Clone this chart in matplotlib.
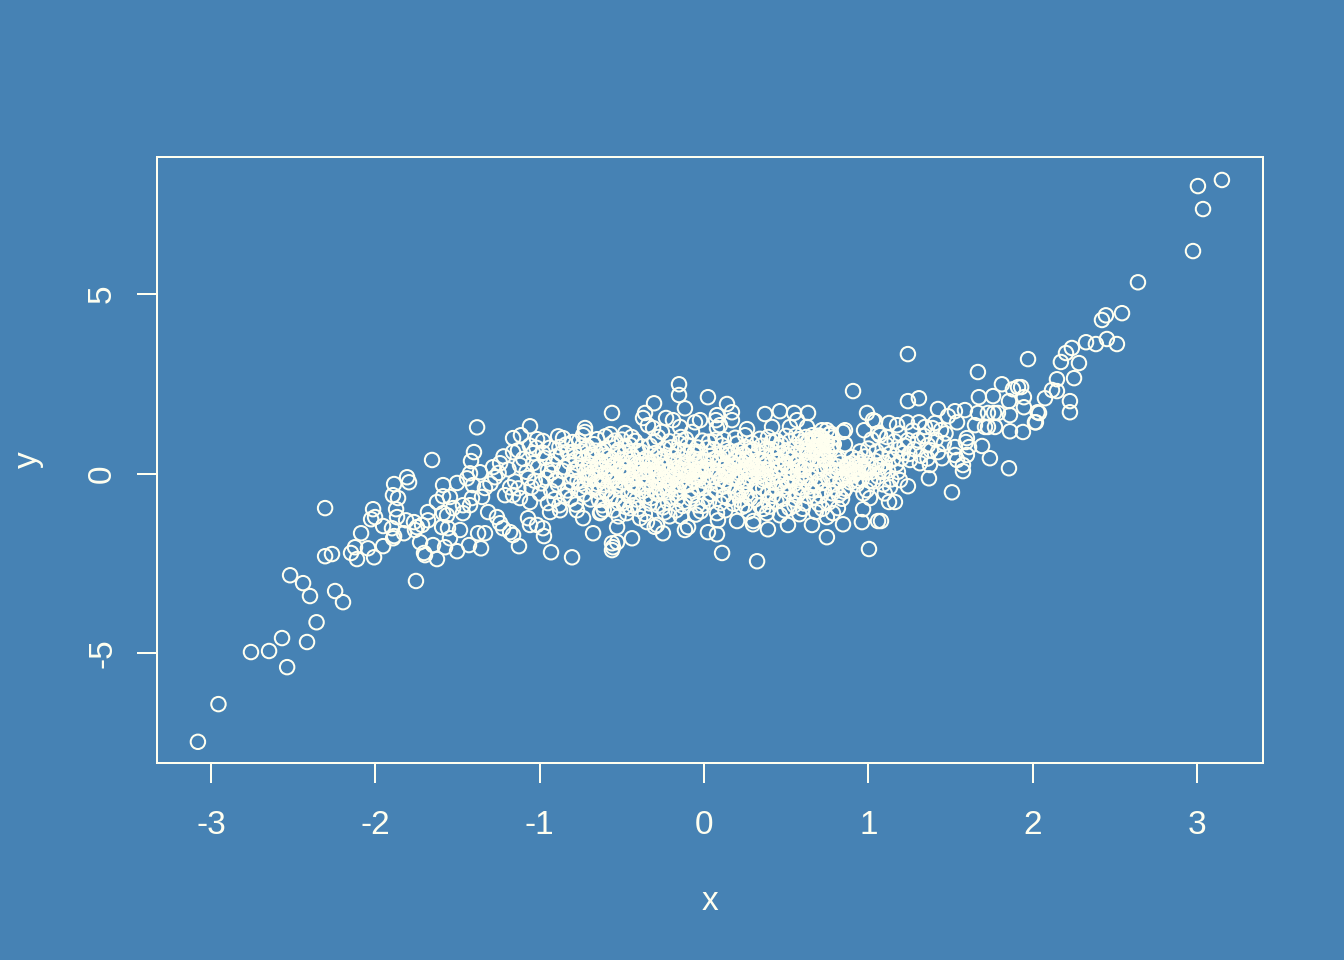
import matplotlib
matplotlib.use('Agg')
import matplotlib.pyplot as plt

BG = '#4682B4'
FG = '#FFFFF0'

# values, tails first and then the band from left to right
low_tail = [(-3.08, -7.47), (-2.955, -6.42), (-2.757, -4.97), (-2.647, -4.94), (-2.568, -4.58),
            (-2.537, -5.39), (-2.416, -4.69), (-2.358, -4.14), (-2.519, -2.83), (-2.44, -3.05),
            (-2.398, -3.41), (-2.245, -3.27), (-2.197, -3.58), (-2.306, -0.96), (-2.306, -2.30),
            (-2.264, -2.24)]

high_tail = [(3.152, 8.18), (3.006, 8.01), (3.037, 7.37), (2.976, 6.20), (2.641, 5.33), (2.544, 4.47),
             (2.446, 4.41), (2.422, 4.28), (2.452, 3.75), (2.513, 3.61), (2.385, 3.61), (2.325, 3.66),
             (2.239, 3.50), (2.203, 3.36), (2.172, 3.11), (2.282, 3.08), (2.252, 2.66), (2.148, 2.63),
             (2.118, 2.33), (2.148, 2.30), (2.075, 2.10), (2.227, 2.02), (2.227, 1.71), (2.03, 1.71),
             (2.014, 1.43)]

left_band = [(-1.381, 1.29), (-1.655, 0.38), (-1.40, 0.60), (-1.418, 0.35), (-1.807, -0.10), (-1.795, -0.24),
             (-1.886, -0.29), (-1.893, -0.60), (-1.862, -0.68), (-1.874, -0.99), (-2.014, -0.99), (-2.002, -1.21),
             (-2.026, -1.27), (-2.087, -1.66), (-1.953, -1.46), (-1.868, -1.21), (-1.899, -1.52), (-1.886, -1.74),
             (-1.892, -1.80), (-1.953, -2.02), (-2.045, -2.08), (-2.124, -2.05), (-2.148, -2.21), (-2.112, -2.38),
             (-2.008, -2.33), (-1.753, -2.99), (-1.813, -1.30), (-1.826, -1.66), (-1.765, -1.35), (-1.747, -1.49),
             (-1.759, -1.57), (-1.728, -1.91), (-1.68, -1.07), (-1.68, -1.30), (-1.716, -1.43), (-1.704, -2.21),
             (-1.698, -2.27), (-1.649, -1.99), (-1.625, -2.38), (-1.576, -2.05), (-1.503, -2.16), (-1.43, -1.99),
             (-1.357, -2.08), (-1.126, -2.02), (-0.931, -2.19), (-0.803, -2.33), (-0.675, -1.66), (-1.625, -0.79),
             (-1.588, -0.32), (-1.588, -0.63), (-1.546, -0.65), (-1.503, -0.26), (-1.588, -1.10), (-1.564, -1.16),
             (-1.594, -1.49), (-1.558, -1.52), (-1.546, -1.80), (-1.485, -1.57), (-1.527, -0.96), (-1.467, -0.88),
             (-1.467, -1.10), (-1.424, -0.88), (-1.375, -1.66), (-1.333, -1.66), (-1.314, -1.07), (-1.26, -1.21),
             (-1.241, -1.38), (-1.223, -1.52), (-1.18, -1.63), (-1.162, -1.71), (-1.071, -1.24), (-1.059, -1.43),
             (-1.016, -1.43), (-0.98, -1.52), (-0.974, -1.74), (-0.937, -1.07), (-0.876, -1.02), (-0.736, -1.24),
             (-0.773, -1.02), (-0.633, -1.10), (-1.059, 1.32), (-1.162, 0.99), (-1.114, 1.07), (-1.016, 0.96),
             (-0.98, 0.91), (-0.888, 1.04), (-0.858, 0.99), (-0.724, 1.27), (-0.724, 1.16), (-0.736, 1.07),
             (-1.162, 0.60), (-1.132, 0.65), (-1.04, 0.57), (-1.04, 0.29), (-1.241, 0.29), (-1.284, 0.18),
             (-1.272, -0.10), (-1.363, 0.04), (-1.424, 0.01), (-1.442, -0.13), (-1.406, -0.32), (-1.333, -0.40),
             (-1.351, -0.65), (-1.412, -0.68), (-1.211, -0.60), (-1.162, -0.60), (-1.12, -0.68), (-1.059, -0.79),
             (-1.19, 0.12), (-1.15, -0.22), (-1.10, 0.41), (-1.08, 0.05), (-1.05, -0.38), (-1.01, 0.18),
             (-1.00, -0.55), (-0.97, 0.44), (-0.96, -0.12), (-0.94, 0.72), (-0.92, 0.26), (-0.91, -0.71),
             (-0.89, -0.30), (-0.87, 0.55), (-0.86, 0.08), (-0.84, 0.81), (-0.83, -0.47), (-0.82, 0.33),
             (-0.80, -0.08), (-0.79, 0.62), (-0.78, -0.86), (-0.77, 0.17), (-0.76, 0.91), (-0.75, -0.28),
             (-0.74, 0.42), (-0.73, -0.58), (-0.72, 0.03), (-0.71, 0.74), (-0.70, -0.15), (-0.69, 0.27),
             (-1.22, 0.48), (-1.30, -0.28), (-1.13, -0.41), (-1.07, -0.12), (-0.99, -0.27), (-0.95, 0.10)]

mid_edges = [(-0.152, 2.49), (-0.152, 2.19), (0.024, 2.13), (-0.304, 1.96), (-0.116, 1.82), (-0.56, 1.69),
             (0.14, 1.94), (0.17, 1.71), (0.17, 1.49), (0.079, 1.63), (0.073, 1.49), (0.097, 1.35), (0.079, 1.27),
             (-0.359, 1.69), (-0.371, 1.55), (-0.341, 1.35), (-0.231, 1.55), (-0.189, 1.49), (-0.146, 1.30),
             (-0.055, 1.43), (-0.024, 1.49), (-0.073, 1.16), (-0.256, 1.16), (0.371, 1.66), (0.462, 1.74),
             (0.548, 1.69), (0.633, 1.69), (0.566, 1.49), (0.523, 1.30), (0.414, 1.30), (0.262, 1.24), (0.25, 1.07),
             (0.627, 1.30), (0.718, 1.21), (0.748, 1.21), (0.858, 1.21), (0.846, 1.16), (0.858, 0.82), (0.907, 2.30),
             (0.992, 1.69), (1.028, 1.49), (0.974, 1.21), (1.059, 1.13), (0.90, 0.46), (-0.627, -1.07), (-0.529, -1.49),
             (-0.438, -1.80), (-0.56, -1.94), (-0.554, -2.05), (-0.56, -2.13), (-0.529, -1.91), (0.11, -2.21),
             (0.323, -2.44), (1.004, -2.10), (0.748, -1.77), (0.961, -1.35), (0.846, -1.41), (0.968, -0.99),
             (1.059, -1.32), (0.389, -1.55), (0.201, -1.32), (0.298, -1.41), (0.079, -1.69), (0.024, -1.63),
             (-0.116, -1.57), (-0.097, -1.49), (-0.25, -1.66), (-0.286, -1.43), (-0.347, -1.35), (-0.389, -1.24),
             (0.085, -1.30), (0.079, -1.10), (0.511, -1.43), (0.462, -1.16), (0.657, -1.43), (0.748, -1.21),
             (0.785, -1.10), (0.815, -0.96), (0.383, -1.10), (-0.45, -0.96), (-0.493, -0.82), (-0.60, 1.04),
             (-0.57, 1.10), (-0.48, 1.13), (-0.44, 1.02), (-0.31, 1.27), (-0.42, 0.91), (-0.52, -1.19),
             (-0.40, -0.98), (-0.21, -1.19), (-0.17, -1.02), (-0.05, -1.14), (0.30, -1.32), (0.23, -0.93),
             (0.58, -1.13), (0.68, -1.07), (-0.30, -1.48), (-0.33, 0.78), (-0.16, 0.66), (0.03, 0.89), (0.29, 0.86),
             (0.34, 0.97), (0.44, 0.92), (0.56, 1.06), (0.66, 1.07), (0.77, 1.12), (0.71, 1.02)]

core_left = [(-0.68, 0.53), (-0.67, -0.42), (-0.66, 0.11), (-0.65, 0.96), (-0.64, -0.73), (-0.63, 0.36), (-0.62, -0.19),
             (-0.61, 0.69), (-0.60, 0.02), (-0.59, -0.56), (-0.58, 0.47), (-0.57, -0.10), (-0.56, 0.84), (-0.55, 0.24),
             (-0.54, -0.36), (-0.53, 0.59), (-0.52, -0.81), (-0.51, 0.07), (-0.50, 0.38), (-0.49, -0.23), (-0.48, 0.76),
             (-0.47, -0.05), (-0.46, -0.61), (-0.45, 0.29), (-0.44, 0.51), (-0.43, -0.33), (-0.42, 0.13), (-0.41, -0.72),
             (-0.40, 0.63), (-0.39, -0.14), (-0.38, 0.35), (-0.37, -0.48), (-0.36, 0.05), (-0.35, 0.44), (-0.34, -0.26),
             (-0.33, -0.83), (-0.32, 0.22), (-0.31, -0.02), (-0.30, 0.57), (-0.29, -0.55), (-0.28, 0.12), (-0.27, -0.20),
             (-0.26, 0.40), (-0.25, -0.94), (-0.24, 0.70), (-0.23, -0.37), (-0.22, 0.03), (-0.21, 0.28), (-0.20, -0.66),
             (-0.19, 0.48), (-0.18, -0.12), (-0.17, 0.17), (-0.16, -0.44), (-0.15, 0.85), (-0.14, -0.05), (-0.13, 0.33),
             (-0.12, -0.78), (-0.11, 0.09), (-0.10, 0.55), (-0.09, -0.28), (-0.08, 0.20), (-0.07, -0.60), (-0.06, 0.42),
             (-0.05, -0.08), (-0.04, 0.73), (-0.03, -0.41), (-0.02, 0.14), (-0.01, -0.19), (0.00, 0.36), (0.01, -0.70),
             (-0.63, 0.12), (-0.59, 0.30), (-0.55, -0.08), (-0.51, -0.30), (-0.47, 0.15), (-0.43, 0.42), (-0.39, 0.08),
             (-0.35, -0.11), (-0.31, 0.33), (-0.27, -0.38), (-0.23, 0.21), (-0.19, -0.02), (-0.15, -0.29), (-0.11, 0.27),
             (-0.07, 0.04), (-0.03, -0.13), (-0.61, -0.30), (-0.53, 0.16), (-0.45, -0.17), (-0.37, 0.25), (-0.29, 0.01),
             (-0.21, -0.25), (-0.13, 0.10), (-0.05, 0.30), (-0.58, -0.02), (-0.50, 0.04), (-0.42, -0.06), (-0.34, 0.10),
             (-0.26, -0.07), (-0.18, 0.06), (-0.10, -0.04), (-0.02, 0.02), (-0.66, -0.14), (-0.56, -0.22), (-0.46, 0.02),
             (-0.36, -0.34), (-0.24, -0.16), (-0.14, -0.18), (-0.04, 0.12), (-0.70, 0.20), (-0.60, 0.50), (-0.48, 0.58),
             (-0.38, 0.61), (-0.28, 0.52), (-0.20, 0.73), (-0.12, 0.62), (-0.06, 0.56), (-0.44, -0.50), (-0.32, -0.68),
             (-0.22, -0.52), (-0.08, -0.47), (-0.16, -0.70), (-0.54, -0.67), (-0.64, -0.50), (-0.01, -0.90)]

core_right = [(0.02, 0.18), (0.03, -0.27), (0.04, 0.49), (0.05, -0.08), (0.06, 0.68), (0.07, -0.48), (0.08, 0.06), (0.09, 0.31),
              (0.10, -0.15), (0.11, 0.79), (0.12, -0.63), (0.13, 0.24), (0.14, -0.03), (0.15, 0.52), (0.16, -0.35), (0.17, 0.11),
              (0.18, -0.84), (0.19, 0.40), (0.20, -0.11), (0.21, 0.64), (0.22, 0.03), (0.23, -0.44), (0.24, 0.27), (0.25, 0.75),
              (0.26, -0.20), (0.27, 0.13), (0.28, -0.68), (0.29, 0.45), (0.30, -0.04), (0.31, 0.21), (0.32, -0.32), (0.33, 0.58),
              (0.34, -0.89), (0.35, 0.09), (0.36, 0.35), (0.37, -0.14), (0.38, 0.70), (0.39, -0.52), (0.40, 0.02), (0.41, 0.26),
              (0.42, -0.25), (0.43, 0.50), (0.44, -0.77), (0.45, 0.15), (0.46, -0.06), (0.47, 0.82), (0.48, -0.40), (0.49, 0.33),
              (0.50, -0.17), (0.51, 0.60), (0.52, -0.96), (0.53, 0.10), (0.54, 0.41), (0.55, -0.29), (0.56, 0.74), (0.57, -0.58),
              (0.58, 0.19), (0.59, -0.09), (0.60, 0.52), (0.61, -0.83), (0.62, 0.29), (0.63, 0.88), (0.64, -0.36), (0.65, 0.07),
              (0.66, 0.62), (0.67, -0.66), (0.68, 0.96), (0.69, 0.38), (0.70, -0.19), (0.71, 0.79), (0.72, 0.54), (0.73, -0.47),
              (0.74, 0.90), (0.75, 0.22), (0.76, -0.80), (0.77, 0.67), (0.78, 1.00), (0.79, -0.30), (0.80, 0.44), (0.81, 0.06),
              (0.82, -0.60), (0.83, 0.31), (0.84, -0.12), (0.85, 0.15), (0.86, -0.42), (0.87, 0.03), (0.88, 0.26), (0.89, -0.24),
              (0.90, 0.10), (0.91, -0.05), (0.92, 0.20), (0.93, -0.30), (0.94, 0.05), (0.95, 0.30), (0.96, -0.15), (0.97, 0.12),
              (0.98, 0.48), (0.99, -0.46), (1.00, 0.22), (0.66, 0.98), (0.69, 0.84), (0.72, 0.70), (0.75, 0.86), (0.62, 0.72),
              (0.70, 1.06), (0.64, 0.44), (0.74, 0.40), (0.76, 1.08), (0.68, 0.70), (0.60, 0.88), (0.79, 0.82), (0.05, 0.12),
              (0.09, -0.05), (0.13, 0.06), (0.17, 0.30), (0.21, -0.18), (0.25, 0.08), (0.29, 0.19), (0.33, -0.06), (0.37, 0.13),
              (0.41, -0.11), (0.45, 0.37), (0.49, 0.04), (0.53, -0.16), (0.57, 0.28), (0.61, 0.12), (0.65, -0.12), (0.69, 0.05),
              (0.73, 0.15), (0.77, -0.08), (0.81, 0.20), (0.06, 0.40), (0.11, 0.55), (0.16, 0.62), (0.20, 0.45), (0.24, 0.55),
              (0.28, 0.63), (0.33, 0.38), (0.37, 0.48), (0.41, 0.68), (0.46, 0.56), (0.50, 0.24), (0.55, 0.52), (0.59, 0.67),
              (0.04, -0.56), (0.12, -0.36), (0.19, -0.52), (0.26, -0.58), (0.31, -0.72), (0.36, -0.40), (0.42, -0.62),
              (0.47, -0.25), (0.52, -0.50), (0.58, -0.39), (0.63, -0.62), (0.68, -0.33), (0.72, -0.26), (0.78, -0.55),
              (0.10, -0.82), (0.22, -0.74), (0.40, -0.92), (0.55, -0.88), (0.70, -0.85), (0.84, -0.70), (0.15, 0.02), (0.27, -0.10)]

core_fill = [(-1.02, 0.72), (-0.93, -0.48), (-0.90, 0.48), (-0.88, -0.88), (-0.85, 0.18), (-0.81, -0.24), (-0.80, 0.88),
             (-0.78, 0.40), (-0.76, -0.45), (-0.75, 0.62), (-0.73, 0.20), (-0.72, -0.36), (-0.70, 0.50), (-0.69, -0.72),
             (-0.68, 0.02), (-0.67, 0.82), (-0.65, -0.28), (-0.64, 0.28), (-0.62, -0.88), (-0.62, 0.60), (-0.60, -0.46),
             (-0.58, 0.15), (-0.57, -0.70), (-0.56, 0.40), (-0.54, 0.92), (-0.53, -0.18), (-0.52, 0.66), (-0.50, -0.46),
             (-0.49, 0.18), (-0.48, -0.92), (-0.47, 0.43), (-0.45, 0.80), (-0.44, -0.28), (-0.43, -0.88), (-0.41, 0.24),
             (-0.40, -0.40), (-0.38, 0.76), (-0.37, -0.08), (-0.35, -0.62), (-0.33, 0.30), (-0.32, -0.40), (-0.30, 0.90),
             (-0.29, -0.22), (-0.28, -0.88), (-0.26, 0.22), (-0.25, -0.50), (-0.24, 0.46), (-0.22, -0.80), (-0.21, 0.90),
             (-0.19, -0.34), (-0.18, 0.32), (-0.17, -0.55), (-0.15, 0.14), (-0.14, 1.02), (-0.13, -0.90), (-0.12, -0.30),
             (-0.10, 0.80), (-0.09, 0.08), (-0.08, -0.70), (-0.06, -0.18), (-0.05, 0.62), (-0.04, -0.88), (-0.03, 0.40),
             (-0.01, 0.92), (0.00, -0.40), (0.01, 0.08), (0.02, 0.72), (0.03, -0.78), (0.05, 0.30), (0.07, 0.95), (0.08, -0.30),
             (0.10, 0.42), (0.12, 0.96), (0.13, -0.20), (0.14, 0.68), (0.15, -0.70), (0.17, -0.12), (0.18, 0.20), (0.20, 0.84),
             (0.21, -0.60), (0.22, 0.36), (0.24, -0.30), (0.25, -0.88), (0.26, 0.42), (0.28, 0.02), (0.30, 0.68), (0.32, 0.14),
             (0.33, -0.48), (0.35, 0.78), (0.36, -0.20), (0.38, 0.30), (0.39, -0.78), (0.41, 0.88), (0.43, 0.08), (0.44, -0.42),
             (0.45, 0.72), (0.47, 0.20), (0.48, -0.70), (0.50, 0.50), (0.51, -0.32), (0.52, 0.90), (0.54, 0.02), (0.55, -0.72),
             (0.56, 0.32), (0.58, 0.96), (0.59, -0.50), (0.60, 0.10), (0.62, -0.22), (0.63, 0.60), (0.65, 0.30), (0.66, -0.46),
             (0.67, 0.88), (0.69, 0.58), (0.70, 0.22), (0.71, -0.62), (0.72, 0.98), (0.73, 0.44), (0.75, 0.62), (0.76, -0.16),
             (0.77, 0.30), (0.78, 0.80), (0.79, 0.10), (0.80, -0.44), (0.82, 0.42), (0.83, -0.20), (0.85, -0.50), (0.87, 0.22),
             (0.88, -0.08), (0.90, 0.30), (0.92, 0.02), (0.94, -0.20), (0.96, 0.18)]

band_fill = [(-1.25, 0.02), (-1.18, -0.38), (-1.12, 0.24), (-1.06, 0.78), (-1.03, -0.20), (-0.98, 0.58), (-0.95, -0.82),
             (-0.93, 0.02), (-0.90, -0.18), (-0.88, 0.74), (-0.85, -0.62), (-0.83, 0.60), (-0.81, -0.70), (-0.79, 0.10),
             (-0.77, -0.20), (-0.74, 0.78), (-0.71, -0.08), (-0.66, 0.64), (-0.61, -1.00), (-0.55, -1.02), (-0.47, -1.10),
             (-0.36, -1.12), (-0.24, -1.08), (-0.14, -1.20), (-0.02, -1.05), (0.13, -1.02), (0.27, -1.06), (0.36, -0.98),
             (0.49, -1.02), (0.60, -0.98), (0.72, -0.98), (-0.50, 0.95), (-0.28, 1.02), (-0.11, 0.96), (0.19, 1.00),
             (0.39, 1.02), (0.50, 1.05), (0.62, 1.02), (1.10, -0.55), (1.18, 0.05)]

right_band = [(1.241, 3.33), (1.972, 3.19), (1.667, 2.83), (1.813, 2.49), (1.911, 2.41), (1.88, 2.35), (1.93, 2.41),
              (1.241, 2.02), (1.308, 2.10), (1.673, 2.13), (1.759, 2.16), (1.856, 2.02), (1.947, 2.13), (1.947, 1.85),
              (2.039, 1.69), (2.02, 1.43), (1.941, 1.16), (1.862, 1.18), (1.862, 1.63), (1.789, 1.69), (1.765, 1.69),
              (1.728, 1.69), (1.667, 1.69), (1.771, 1.30), (1.728, 1.30), (1.71, 1.30), (1.649, 1.35), (1.588, 1.77),
              (1.527, 1.74), (1.485, 1.60), (1.54, 1.43), (1.424, 1.80), (1.442, 1.21), (1.406, 1.41), (1.308, 1.43),
              (1.345, 1.30), (1.235, 1.43), (1.175, 1.35), (1.126, 1.41), (1.041, 1.46), (1.071, 1.07), (1.114, 1.02),
              (1.241, 0.93), (1.302, 0.93), (1.60, 0.99), (1.594, 0.88), (1.613, 0.74), (1.692, 0.77), (1.74, 0.43),
              (1.856, 0.15), (1.576, 0.07), (1.6, 0.52), (1.527, 0.74), (1.527, 0.52), (1.54, 0.38), (1.576, 0.24),
              (1.448, 0.43), (1.424, 0.60), (1.363, 0.79), (1.375, 0.24), (1.369, -0.13), (1.509, -0.52), (1.241, -0.35),
              (1.162, -0.79), (1.126, -0.79), (1.077, -1.32), (1.01, -0.68), (1.193, -0.18), (1.132, -0.38), (1.314, 0.29),
              (1.254, 0.38), (1.211, 0.57), (1.02, 0.05), (1.03, -0.22), (1.04, 0.36), (1.05, 0.62), (1.06, -0.08),
              (1.07, 0.18), (1.08, 0.48), (1.09, -0.30), (1.10, 0.30), (1.11, 0.80), (1.12, 0.08), (1.13, 0.55),
              (1.14, -0.16), (1.15, 0.40), (1.16, 0.90), (1.17, 0.25), (1.18, 0.68), (1.19, 1.12), (1.20, 0.42),
              (1.22, 0.78), (1.25, 0.55), (1.27, 1.20), (1.28, 0.68), (1.32, 0.50), (1.34, 1.05), (1.36, 0.42),
              (1.38, 0.65), (1.39, 1.27), (1.41, 0.95), (1.46, 0.85), (1.47, 1.12), (0.95, 0.62), (0.97, -0.55),
              (1.00, 0.70), (1.02, 0.95), (0.93, 0.40), (0.99, 0.03), (1.05, 0.22), (1.01, -0.20), (1.09, 0.05)]

points = low_tail + high_tail + left_band + mid_edges + core_left + core_right + core_fill + band_fill + right_band
x = [p[0] for p in points]
y = [p[1] for p in points]

plt.rcParams['font.family'] = ['Liberation Sans', 'DejaVu Sans']

fig = plt.figure(figsize=(13.44, 9.6), dpi=100, facecolor=BG)
ax = fig.add_axes([157 / 1344, 1 - 763 / 960, 1106 / 1344, 606 / 960], facecolor=BG)
ax.scatter(x, y, s=108, facecolors='none', edgecolors=FG, linewidths=1.45, clip_on=False)

ax.set_xlim(-3.329, 3.402)
ax.set_ylim(-8.06, 8.82)
ax.set_xticks([-3, -2, -1, 0, 1, 2, 3])
ax.set_yticks([-5, 0, 5])
ax.set_xticklabels(['-3', '-2', '-1', '0', '1', '2', '3'])
ax.set_yticklabels(['-5', '0', '5'], rotation=90, va='center')
ax.tick_params(length=14.5, width=1.45, color=FG, labelcolor=FG, labelsize=24)
ax.tick_params(axis='x', pad=19.5)
ax.tick_params(axis='y', pad=13.5)
for s in ax.spines.values():
    s.set_color(FG)
    s.set_linewidth(1.45)

ax.set_xlabel('x', color=FG, fontsize=24, va='center')
ax.set_ylabel('y', color=FG, fontsize=24, va='center')
ax.xaxis.set_label_coords(0.5, -0.228)
ax.yaxis.set_label_coords(-0.1166, 0.5)

fig.savefig('out.png', dpi=100, facecolor=BG)
